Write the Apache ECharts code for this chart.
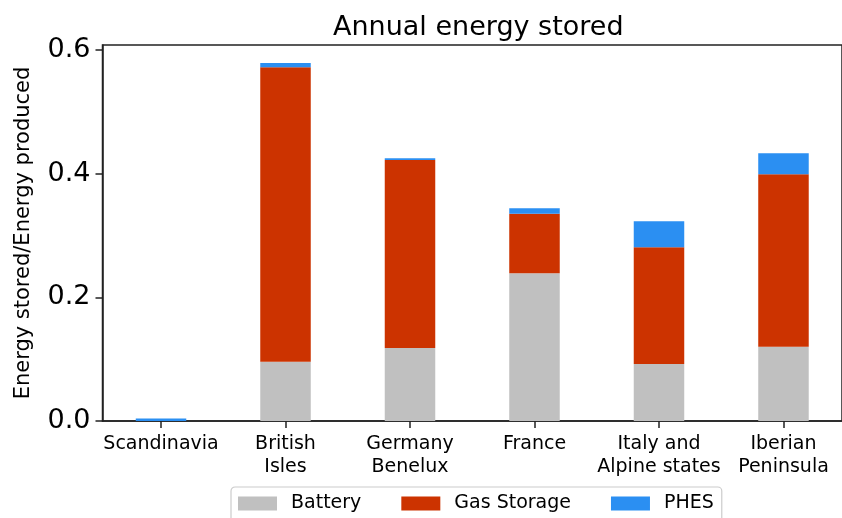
<!DOCTYPE html>
<html><head><meta charset="utf-8">
<script src="https://cdn.jsdelivr.net/npm/echarts@6/dist/echarts.min.js"></script>
<style>html,body{margin:0;padding:0;background:#fff}#c{width:842px;height:518px}</style>
</head><body><div id="c"></div>
<script>
const categories = ["Scandinavia", "British\nIsles", "Germany\nBenelux", "France", "Italy and\nAlpine states", "Iberian\nPeninsula"];
const battery = [0, 0.096, 0.118, 0.239, 0.092, 0.120];
const gasStorage = [0, 0.476, 0.304, 0.096, 0.189, 0.279];
const phes = [0.004, 0.007, 0.003, 0.009, 0.042, 0.034];
const yTicks = [0, 0.2, 0.4, 0.6];

const FONT = 'DejaVu Sans';
const chart = echarts.init(document.getElementById('c'), null, {renderer: 'canvas'});
const idx = categories.map((_, i) => i);
// value first so the stack runs on the y dimension
const toPts = arr => arr.map((v, i) => [v, i]);
const mk = (name, arr, color) => ({
  name, type: 'bar', stack: 'total', barWidth: 50.5, data: toPts(arr),
  encode: {x: 1, y: 0},
  itemStyle: {color}, emphasis: {disabled: true}
});
chart.setOption({
  animation: false,
  textStyle: {fontFamily: FONT, color: '#000'},
  title: {text: 'Annual energy stored', left: 328, top: 9,
    textStyle: {fontFamily: FONT, fontSize: 27, fontWeight: 'normal', color: '#000'}},
  grid: {left: 102.5, top: 45, width: 751, height: 376, show: true,
    borderColor: '#222', borderWidth: 1.5, backgroundColor: 'transparent'},
  legend: {top: 487, left: 231, itemWidth: 39, itemHeight: 14, itemGap: 40, icon: 'rect',
    padding: [7, 8, 12, 7], borderColor: '#ccc', borderWidth: 1.2, borderRadius: 4,
    textStyle: {fontFamily: FONT, fontSize: 19, color: '#000', padding: [0, 0, 0, 9]},
    data: ['Battery', 'Gas Storage', 'PHES']},
  xAxis: {type: 'value', min: -0.47, max: 5.47, splitLine: {show: false},
    axisLine: {show: true, lineStyle: {color: '#222', width: 1.5}},
    axisTick: {show: true, length: 7, customValues: idx, lineStyle: {color: '#222', width: 1.5}},
    axisLabel: {customValues: idx, margin: 12, fontFamily: FONT, fontSize: 19, color: '#000',
      lineHeight: 23, align: 'center', formatter: v => categories[Math.round(v)]}},
  yAxis: {type: 'value', min: 0, max: 0.608, splitLine: {show: false},
    name: 'Energy stored/Energy produced', nameLocation: 'middle', nameGap: 68,
    nameTextStyle: {fontFamily: FONT, fontSize: 21, color: '#000'},
    axisLine: {show: true, onZero: false, lineStyle: {color: '#222', width: 1.5}},
    axisTick: {show: true, length: 7, customValues: yTicks, lineStyle: {color: '#222', width: 1.5}},
    axisLabel: {customValues: yTicks, margin: 12, fontFamily: FONT, fontSize: 27, color: '#000',
      formatter: v => v.toFixed(1)}},
  series: [
    mk('Battery', battery, '#c0c0c0'),
    mk('Gas Storage', gasStorage, '#cc3300'),
    mk('PHES', phes, '#2b8ff2')
  ]
});
</script></body></html>
